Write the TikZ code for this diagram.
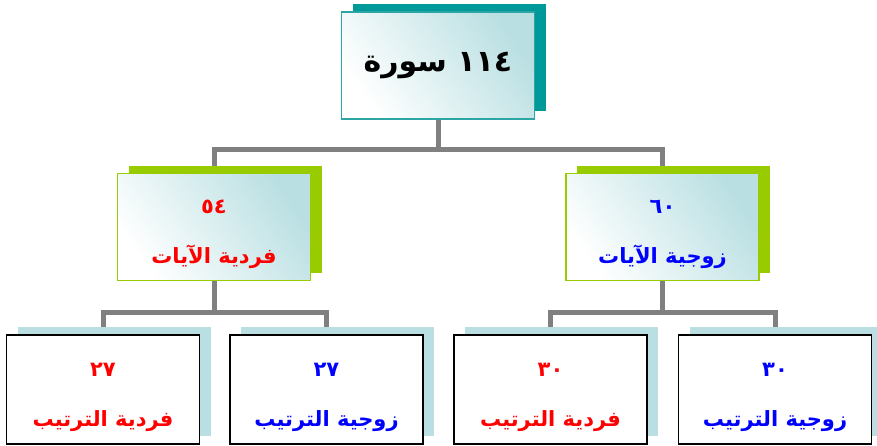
\documentclass[tikz,border=0pt]{standalone}
\usepackage{fontspec}
\newfontfamily\arabicfont[Script=Arabic]{DejaVu Sans}
\TeXXeTstate=1
\usetikzlibrary{shadows,backgrounds}

\definecolor{tealdark}{HTML}{009999}
\definecolor{tealedge}{HTML}{2CA6A4}
\definecolor{limegreen}{HTML}{99CC00}
\definecolor{palecyan}{HTML}{B9DFE2}
\definecolor{linegray}{HTML}{808080}

\newcommand{\arline}[1]{\beginR #1\endR}
\newcommand{\numline}[1]{\rule{0pt}{29pt}#1}

\tikzset{
  box/.style={minimum width=193pt, minimum height=107pt, inner sep=0pt,
    align=center, font=\arabicfont\bfseries\fontsize{21}{25}\selectfont},
  topbox/.style={box, draw=tealedge, line width=1.6pt,
    left color=white, right color=palecyan, shading angle=125,
    general shadow={fill=tealdark, shadow xshift=11pt, shadow yshift=8pt},
    font=\arabicfont\bfseries\fontsize{30}{36}\selectfont},
  midbox/.style={box, draw=limegreen, line width=1.8pt,
    left color=white, right color=palecyan, shading angle=125,
    general shadow={fill=limegreen, shadow xshift=11pt, shadow yshift=8pt}},
  lowbox/.style={box, minimum height=109pt, draw=black, fill=white, line width=1.6pt,
    general shadow={fill=palecyan, shadow xshift=11pt, shadow yshift=8pt}},
  conn/.style={draw=linegray, line width=5pt}
}

\begin{document}
\begin{tikzpicture}[x=1pt,y=-1pt]
\useasboundingbox (0,0) rectangle (877,445);

% top level
\node[topbox] (sura) at (438,65.5) {\arline{\beginL ١١٤\endL{} سورة}};

% verses
\node[midbox, text=red] (oddverses) at (214,227) {\numline{٥٤}\\[25pt]\arline{فردية الآيات}};
\node[midbox, text=blue] (evenverses) at (662.5,227) {\numline{٦٠}\\[25pt]\arline{زوجية الآيات}};

% order
\node[lowbox, text=red] (oddodd) at (103,389.5) {\numline{٢٧}\\[25pt]\arline{فردية الترتيب}};
\node[lowbox, text=blue] (oddeven) at (326.5,389.5) {\numline{٢٧}\\[25pt]\arline{زوجية الترتيب}};
\node[lowbox, text=red] (evenodd) at (550.5,389.5) {\numline{٣٠}\\[25pt]\arline{فردية الترتيب}};
\node[lowbox, text=blue] (eveneven) at (775,389.5) {\numline{٣٠}\\[25pt]\arline{زوجية الترتيب}};

\begin{scope}[on background layer]
\draw[conn] (sura.south) -- ++(0,30) -| (oddverses.north);
\draw[conn] (sura.south) -- ++(0,30) -| (evenverses.north);
\draw[conn] (oddverses.south) -- ++(0,31) -| (oddodd.north);
\draw[conn] (oddverses.south) -- ++(0,31) -| (oddeven.north);
\draw[conn] (evenverses.south) -- ++(0,31) -| (evenodd.north);
\draw[conn] (evenverses.south) -- ++(0,31) -| (eveneven.north);
\end{scope}

\end{tikzpicture}
\end{document}
